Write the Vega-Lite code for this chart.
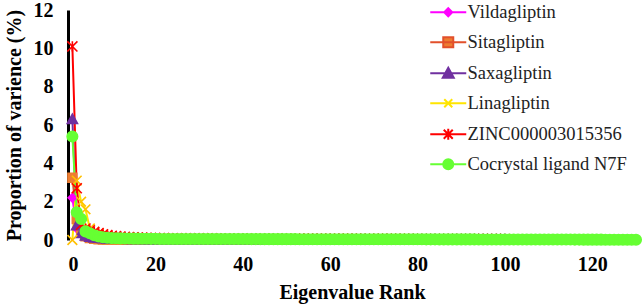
{
  "$schema": "https://vega.github.io/schema/vega-lite/v6.json",
  "width": 568,
  "height": 230,
  "autosize": {"type": "none"},
  "padding": {"left": 68, "top": 10, "right": 8, "bottom": 68},
  "background": "white",
  "config": {"view": {"stroke": null}, "font": "Liberation Serif"},
  "data": {"values": [
    {"x":1,"a":2.2,"b":3.25,"c":6.3,"d":0,"e":10.1,"f":5.4},
    {"x":2,"a":0.6,"b":1.1,"c":0.75,"d":3.1,"e":2.7,"f":1.45},
    {"x":3,"a":0.3,"b":0.45,"c":0.35,"d":2.0,"e":0.8,"f":1.1},
    {"x":4,"a":0.18,"b":0.2,"c":0.22,"d":1.6,"e":0.6,"f":0.45},
    {"x":5,"a":0.12,"b":0.1,"c":0.15,"d":0.6,"e":0.5,"f":0.35},
    {"x":6,"a":0.09,"b":0.06,"c":0.12,"d":0.42,"e":0.42,"f":0.25},
    {"x":7,"a":0.07,"b":0.04,"c":0.1,"d":0.34,"e":0.36,"f":0.18},
    {"x":8,"a":0.06,"b":0.03,"c":0.08,"d":0.28,"e":0.3,"f":0.14},
    {"x":9,"a":0.05,"b":0.02,"c":0.07,"d":0.23,"e":0.26,"f":0.12},
    {"x":10,"a":0.04,"b":0.02,"c":0.06,"d":0.19,"e":0.22,"f":0.1},
    {"x":11,"a":0.04,"b":0.02,"c":0.05,"d":0.16,"e":0.2,"f":0.09},
    {"x":12,"a":0.04,"b":0.02,"c":0.05,"d":0.14,"e":0.18,"f":0.085},
    {"x":13,"a":0.035,"b":0.015,"c":0.045,"d":0.12,"e":0.16,"f":0.08},
    {"x":14,"a":0.035,"b":0.015,"c":0.04,"d":0.11,"e":0.15,"f":0.075},
    {"x":15,"a":0.03,"b":0.015,"c":0.04,"d":0.1,"e":0.14,"f":0.07},
    {"x":16,"a":0.03,"b":0.01,"c":0.035,"d":0.09,"e":0.13,"f":0.07},
    {"x":17,"a":0.03,"b":0.01,"c":0.035,"d":0.085,"e":0.12,"f":0.065},
    {"x":18,"a":0.03,"b":0.01,"c":0.03,"d":0.08,"e":0.11,"f":0.065},
    {"x":19,"a":0.025,"b":0.01,"c":0.03,"d":0.075,"e":0.1,"f":0.06},
    {"x":20,"a":0.025,"b":0.01,"c":0.03,"d":0.07,"e":0.1,"f":0.06},
    {"x":21,"a":0.02,"b":0.01,"c":0.025,"d":0.065,"e":0.095,"f":0.055},
    {"x":22,"a":0.02,"b":0.01,"c":0.025,"d":0.065,"e":0.095,"f":0.055},
    {"x":23,"a":0.02,"b":0.01,"c":0.025,"d":0.06,"e":0.09,"f":0.055},
    {"x":24,"a":0.02,"b":0.01,"c":0.025,"d":0.06,"e":0.09,"f":0.055},
    {"x":25,"a":0.02,"b":0.01,"c":0.025,"d":0.058,"e":0.088,"f":0.05},
    {"x":26,"a":0.02,"b":0.01,"c":0.025,"d":0.056,"e":0.086,"f":0.05},
    {"x":27,"a":0.02,"b":0.01,"c":0.025,"d":0.055,"e":0.085,"f":0.05},
    {"x":28,"a":0.02,"b":0.01,"c":0.025,"d":0.054,"e":0.084,"f":0.05},
    {"x":29,"a":0.02,"b":0.01,"c":0.025,"d":0.053,"e":0.083,"f":0.05},
    {"x":30,"a":0.02,"b":0.01,"c":0.025,"d":0.052,"e":0.082,"f":0.05},
    {"x":31,"a":0.02,"b":0.01,"c":0.02,"d":0.051,"e":0.081,"f":0.05},
    {"x":32,"a":0.02,"b":0.01,"c":0.02,"d":0.05,"e":0.08,"f":0.05},
    {"x":33,"a":0.02,"b":0.01,"c":0.02,"d":0.05,"e":0.079,"f":0.05},
    {"x":34,"a":0.02,"b":0.01,"c":0.02,"d":0.049,"e":0.078,"f":0.05},
    {"x":35,"a":0.02,"b":0.01,"c":0.02,"d":0.048,"e":0.077,"f":0.05},
    {"x":36,"a":0.02,"b":0.01,"c":0.02,"d":0.047,"e":0.076,"f":0.05},
    {"x":37,"a":0.02,"b":0.01,"c":0.02,"d":0.046,"e":0.075,"f":0.05},
    {"x":38,"a":0.02,"b":0.01,"c":0.02,"d":0.045,"e":0.074,"f":0.048},
    {"x":39,"a":0.02,"b":0.01,"c":0.02,"d":0.044,"e":0.073,"f":0.048},
    {"x":40,"a":0.02,"b":0.01,"c":0.02,"d":0.043,"e":0.072,"f":0.048},
    {"x":41,"a":0.02,"b":0.01,"c":0.02,"d":0.042,"e":0.071,"f":0.048},
    {"x":42,"a":0.02,"b":0.01,"c":0.02,"d":0.041,"e":0.07,"f":0.047},
    {"x":43,"a":0.02,"b":0.01,"c":0.02,"d":0.04,"e":0.07,"f":0.047},
    {"x":44,"a":0.02,"b":0.01,"c":0.02,"d":0.04,"e":0.069,"f":0.047},
    {"x":45,"a":0.02,"b":0.01,"c":0.02,"d":0.039,"e":0.068,"f":0.046},
    {"x":46,"a":0.02,"b":0.01,"c":0.02,"d":0.038,"e":0.068,"f":0.046},
    {"x":47,"a":0.02,"b":0.01,"c":0.02,"d":0.038,"e":0.067,"f":0.046},
    {"x":48,"a":0.02,"b":0.01,"c":0.02,"d":0.037,"e":0.066,"f":0.045},
    {"x":49,"a":0.02,"b":0.01,"c":0.02,"d":0.036,"e":0.066,"f":0.045},
    {"x":50,"a":0.02,"b":0.01,"c":0.02,"d":0.036,"e":0.065,"f":0.045},
    {"x":51,"a":0.015,"b":0.005,"c":0.015,"d":0.035,"e":0.064,"f":0.044},
    {"x":52,"a":0.015,"b":0.005,"c":0.015,"d":0.035,"e":0.064,"f":0.044},
    {"x":53,"a":0.015,"b":0.005,"c":0.015,"d":0.034,"e":0.063,"f":0.043},
    {"x":54,"a":0.015,"b":0.005,"c":0.015,"d":0.034,"e":0.063,"f":0.043},
    {"x":55,"a":0.015,"b":0.005,"c":0.015,"d":0.033,"e":0.062,"f":0.043},
    {"x":56,"a":0.015,"b":0.005,"c":0.015,"d":0.033,"e":0.062,"f":0.042},
    {"x":57,"a":0.015,"b":0.005,"c":0.015,"d":0.032,"e":0.061,"f":0.042},
    {"x":58,"a":0.015,"b":0.005,"c":0.015,"d":0.032,"e":0.061,"f":0.042},
    {"x":59,"a":0.015,"b":0.005,"c":0.015,"d":0.031,"e":0.06,"f":0.041},
    {"x":60,"a":0.015,"b":0.005,"c":0.015,"d":0.031,"e":0.06,"f":0.041},
    {"x":61,"a":0.015,"b":0.005,"c":0.015,"d":0.03,"e":0.06,"f":0.041},
    {"x":62,"a":0.015,"b":0.005,"c":0.015,"d":0.03,"e":0.059,"f":0.04},
    {"x":63,"a":0.015,"b":0.005,"c":0.015,"d":0.03,"e":0.059,"f":0.04},
    {"x":64,"a":0.015,"b":0.005,"c":0.015,"d":0.029,"e":0.058,"f":0.04},
    {"x":65,"a":0.015,"b":0.005,"c":0.015,"d":0.029,"e":0.058,"f":0.04},
    {"x":66,"a":0.015,"b":0.005,"c":0.015,"d":0.028,"e":0.057,"f":0.04},
    {"x":67,"a":0.015,"b":0.005,"c":0.015,"d":0.028,"e":0.057,"f":0.04},
    {"x":68,"a":0.015,"b":0.005,"c":0.015,"d":0.028,"e":0.056,"f":0.039},
    {"x":69,"a":0.015,"b":0.005,"c":0.015,"d":0.027,"e":0.056,"f":0.039},
    {"x":70,"a":0.015,"b":0.005,"c":0.015,"d":0.027,"e":0.055,"f":0.039},
    {"x":71,"a":0.015,"b":0.005,"c":0.015,"d":0.027,"e":0.055,"f":0.038},
    {"x":72,"a":0.015,"b":0.005,"c":0.015,"d":0.026,"e":0.055,"f":0.038},
    {"x":73,"a":0.015,"b":0.005,"c":0.015,"d":0.026,"e":0.054,"f":0.038},
    {"x":74,"a":0.015,"b":0.005,"c":0.015,"d":0.026,"e":0.054,"f":0.037},
    {"x":75,"a":0.015,"b":0.005,"c":0.015,"d":0.025,"e":0.054,"f":0.037},
    {"x":76,"a":0.01,"b":0.005,"c":0.01,"d":0.025,"e":0.053,"f":0.036},
    {"x":77,"a":0.01,"b":0.005,"c":0.01,"d":0.025,"e":0.053,"f":0.036},
    {"x":78,"a":0.01,"b":0.005,"c":0.01,"d":0.024,"e":0.053,"f":0.036},
    {"x":79,"a":0.01,"b":0.005,"c":0.01,"d":0.024,"e":0.052,"f":0.035},
    {"x":80,"a":0.01,"b":0.005,"c":0.01,"d":0.024,"e":0.052,"f":0.035},
    {"x":81,"a":0.01,"b":0.005,"c":0.01,"d":0.023,"e":0.052,"f":0.035},
    {"x":82,"a":0.01,"b":0.005,"c":0.01,"d":0.023,"e":0.051,"f":0.034},
    {"x":83,"a":0.01,"b":0.005,"c":0.01,"d":0.023,"e":0.051,"f":0.034},
    {"x":84,"a":0.01,"b":0.005,"c":0.01,"d":0.022,"e":0.051,"f":0.034},
    {"x":85,"a":0.01,"b":0.005,"c":0.01,"d":0.022,"e":0.05,"f":0.033},
    {"x":86,"a":0.01,"b":0.005,"c":0.01,"d":0.022,"e":0.05,"f":0.033},
    {"x":87,"a":0.01,"b":0.005,"c":0.01,"d":0.021,"e":0.05,"f":0.033},
    {"x":88,"a":0.01,"b":0.005,"c":0.01,"d":0.021,"e":0.05,"f":0.032},
    {"x":89,"a":0.01,"b":0.005,"c":0.01,"d":0.021,"e":0.049,"f":0.032},
    {"x":90,"a":0.01,"b":0.005,"c":0.01,"d":0.02,"e":0.049,"f":0.032},
    {"x":91,"a":0.01,"b":0.005,"c":0.01,"d":0.02,"e":0.049,"f":0.031},
    {"x":92,"a":0.01,"b":0.005,"c":0.01,"d":0.02,"e":0.048,"f":0.031},
    {"x":93,"a":0.01,"b":0.005,"c":0.01,"d":0.02,"e":0.048,"f":0.031},
    {"x":94,"a":0.01,"b":0.005,"c":0.01,"d":0.019,"e":0.048,"f":0.03},
    {"x":95,"a":0.01,"b":0.005,"c":0.01,"d":0.019,"e":0.048,"f":0.03},
    {"x":96,"a":0.01,"b":0.005,"c":0.01,"d":0.019,"e":0.047,"f":0.03},
    {"x":97,"a":0.01,"b":0.005,"c":0.01,"d":0.019,"e":0.047,"f":0.03},
    {"x":98,"a":0.01,"b":0.005,"c":0.01,"d":0.018,"e":0.047,"f":0.03},
    {"x":99,"a":0.01,"b":0.005,"c":0.01,"d":0.018,"e":0.046,"f":0.03},
    {"x":100,"a":0.01,"b":0.005,"c":0.01,"d":0.018,"e":0.046,"f":0.029},
    {"x":101,"f":0.029},{"x":102,"f":0.028},{"x":103,"f":0.028},{"x":104,"f":0.027},
    {"x":105,"f":0.027},{"x":106,"f":0.026},{"x":107,"f":0.026},{"x":108,"f":0.025},
    {"x":109,"f":0.025},{"x":110,"f":0.024},{"x":111,"f":0.024},{"x":112,"f":0.023},
    {"x":113,"f":0.023},{"x":114,"f":0.022},{"x":115,"f":0.022},{"x":116,"f":0.021},
    {"x":117,"f":0.021},{"x":118,"f":0.02},{"x":119,"f":0.02},{"x":120,"f":0.019},
    {"x":121,"f":0.018},{"x":122,"f":0.018},{"x":123,"f":0.017},{"x":124,"f":0.016},
    {"x":125,"f":0.015},{"x":126,"f":0.014},{"x":127,"f":0.013},{"x":128,"f":0.012},
    {"x":129,"f":0.011},{"x":130,"f":0.01}
  ]},
  "transform": [
    {"fold": ["a", "b", "c", "d", "e", "f"], "as": ["key", "value"]},
    {"filter": "isValid(datum.value)"}
  ],
  "encoding": {
    "x": {"field": "x", "type": "quantitative",
      "scale": {"domain": [0, 130], "nice": false, "zero": true},
      "axis": {"values": [0, 20, 40, 60, 80, 100, 120], "grid": false, "ticks": false, "tickSize": 0, "domain": false,
        "labelFont": "'Liberation Serif', 'Times New Roman', serif", "labelFontWeight": "bold", "labelFontSize": 20, "labelColor": "black", "labelPadding": 14,
        "title": "Eigenvalue Rank", "titleFont": "'Liberation Serif', 'Times New Roman', serif", "titleFontWeight": "bold", "titleFontSize": 20, "titleColor": "black", "titlePadding": 8}},
    "y": {"field": "value", "type": "quantitative",
      "scale": {"domain": [0, 12], "nice": false},
      "axis": {"values": [0, 2, 4, 6, 8, 10, 12], "grid": false, "ticks": false, "tickSize": 0, "domain": true, "domainColor": "black", "domainWidth": 3,
        "labelFont": "'Liberation Serif', 'Times New Roman', serif", "labelFontWeight": "bold", "labelFontSize": 20, "labelColor": "black", "labelPadding": 15,
        "title": "Proportion of varience (%)", "titleFont": "'Liberation Serif', 'Times New Roman', serif", "titleFontWeight": "bold", "titleFontSize": 20, "titleColor": "black", "titlePadding": 9}}
  },
  "layer": [
    {
      "mark": {"type": "line", "strokeWidth": 2},
      "encoding": {
        "stroke": {"field": "key", "type": "nominal",
          "scale": {"domain": ["a", "b", "c", "d", "e", "f"], "range": ["#FF00FF", "#E2502B", "#7030A0", "#FFE500", "#FF0000", "#66FF33"]},
          "legend": {"orient": "none", "legendX": 371, "legendY": -7, "title": null, "padding": 0,
            "symbolSize": 100, "symbolStrokeWidth": 2, "rowPadding": 11, "labelOffset": 10,
            "labelFont": "'Liberation Serif', 'Times New Roman', serif", "labelFontSize": 18.5, "labelColor": "#222222", "labelLimit": 300,
            "labelExpr": "datum.value==='a'?'Vildagliptin':datum.value==='b'?'Sitagliptin':datum.value==='c'?'Saxagliptin':datum.value==='d'?'Linagliptin':datum.value==='e'?'ZINC000003015356':'Cocrystal ligand N7F'",
            "encode": {
              "symbols": {"update": {
              "shape": {"signal": "datum.value==='a'?'M-3.6,0H3.6M0,-0.8L0.8,0L0,0.8L-0.8,0Z':datum.value==='b'?'M-3.6,0H3.6M-1,-1H1V1H-1Z':datum.value==='c'?'M-3.6,0H3.6M0,-1.1L1.1,0.9H-1.1Z':datum.value==='d'?'M-3.6,0H3.6M-0.8,-0.8L0.8,0.8M-0.8,0.8L0.8,-0.8':datum.value==='e'?'M-3.6,0H3.6M-0.9,-0.9L0.9,0.9M-0.9,0.9L0.9,-0.9M0,-1.1V1.1':'M-3.6,0H3.6M1,0A1,1,0,1,1,-1,0A1,1,0,1,1,1,0Z'"},
              "fill": {"signal": "datum.value==='a'?'#FF00FF':datum.value==='b'?'#ED7D31':datum.value==='c'?'#7030A0':datum.value==='d'?'#FFC000':datum.value==='e'?'#FF0000':'#66FF33'"},
              "stroke": {"signal": "datum.value==='a'?'#FF00FF':datum.value==='b'?'#E2502B':datum.value==='c'?'#7030A0':datum.value==='d'?'#FFD000':datum.value==='e'?'#FF0000':'#66FF33'"},
              "strokeWidth": {"value": 2},
              "size": {"value": 100},
              "opacity": {"value": 1}
            }}}
          }}
      }
    },
    {
      "mark": {"type": "point", "filled": true, "opacity": 1, "strokeWidth": 1.6},
      "encoding": {
        "order": {"field": "key"},
        "fill": {"field": "key", "type": "nominal",
          "scale": {"domain": ["a", "b", "c", "d", "e", "f"], "range": ["#FF00FF", "#ED7D31", "#7030A0", "#FFC000", "#FF0000", "#66FF33"]},
          "legend": null},
        "stroke": {"field": "key", "type": "nominal",
          "scale": {"domain": ["a", "b", "c", "d", "e", "f"], "range": ["#FF00FF", "#ED7D31", "#7030A0", "#FFC000", "#FF0000", "#66FF33"]},
          "legend": null},
        "shape": {"field": "key", "type": "nominal",
          "scale": {"domain": ["a", "b", "c", "d", "e", "f"], "range": ["M0,-1L1,0L0,1L-1,0Z", "M-1,-1H1V1H-1Z", "M0,-1.1L1.1,0.9H-1.1Z", "M-1,-1L1,1M-1,1L1,-1", "M-1,-1L1,1M-1,1L1,-1M0,-1V1", "circle"]},
          "legend": null},
        "size": {"field": "key", "type": "nominal",
          "scale": {"domain": ["a", "b", "c", "d", "e", "f"], "range": [70, 110, 110, 100, 90, 144]},
          "legend": null}
      }
    }
  ],
  "resolve": {"scale": {"stroke": "independent"}, "legend": {"stroke": "independent"}}
}
